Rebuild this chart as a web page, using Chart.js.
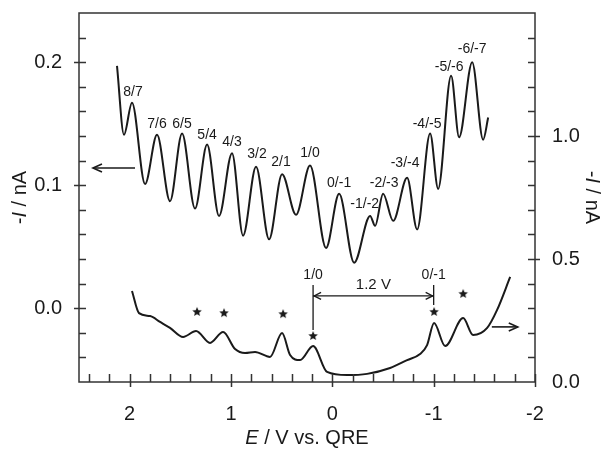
<!DOCTYPE html>
<html>
<head>
<meta charset="utf-8">
<script src="https://cdn.jsdelivr.net/npm/chart.js@4"></script>
<style>
  body { margin: 0; background: #fff; }
</style>
</head>
<body>
<canvas id="chart" width="604" height="451"></canvas>
<script>
// upper curve (left axis, -I / nA)
const upperE = [2.125, 2.056, 1.977, 1.848, 1.730, 1.602, 1.483, 1.355, 1.236, 1.118, 0.990, 0.881, 0.753, 0.624, 0.496, 0.358, 0.220, 0.062, -0.067, -0.215, -0.373, -0.422, -0.501, -0.600, -0.738, -0.837, -0.965, -1.044, -1.172, -1.251, -1.380, -1.488, -1.538];
const upperI = [0.197, 0.141, 0.167, 0.101, 0.141, 0.087, 0.142, 0.081, 0.133, 0.075, 0.126, 0.059, 0.115, 0.056, 0.109, 0.076, 0.116, 0.049, 0.093, 0.037, 0.075, 0.067, 0.093, 0.071, 0.106, 0.064, 0.142, 0.097, 0.189, 0.139, 0.200, 0.137, 0.155];

// lower curve (right axis, -I / nA)
const lowerE = [1.977, 1.908, 1.799, 1.700, 1.602, 1.473, 1.345, 1.207, 1.078, 0.960, 0.861, 0.763, 0.615, 0.496, 0.417, 0.318, 0.190, 0.052, -0.146, -0.343, -0.570, -0.738, -0.866, -0.935, -1.004, -1.113, -1.291, -1.389, -1.528, -1.626, -1.755];
const lowerI = [0.370, 0.280, 0.268, 0.244, 0.220, 0.183, 0.207, 0.159, 0.203, 0.134, 0.118, 0.122, 0.102, 0.199, 0.110, 0.089, 0.146, 0.041, 0.028, 0.033, 0.057, 0.089, 0.114, 0.150, 0.240, 0.146, 0.260, 0.191, 0.220, 0.293, 0.427];

// starred peaks on the lower curve
const starE = [1.335, 1.069, 0.486, 0.190, -1.004, -1.291];
const starI = [0.285, 0.280, 0.276, 0.187, 0.285, 0.358];

// charge-state labels on the upper curve
const peakLabels = ["8/7", "7/6", "6/5", "5/4", "4/3", "3/2", "2/1", "1/0", "0/-1", "-1/-2", "-2/-3", "-3/-4", "-4/-5", "-5/-6", "-6/-7"];
const peakLabelE = [1.967, 1.730, 1.483, 1.236, 0.990, 0.743, 0.506, 0.220, -0.067, -0.320, -0.511, -0.718, -0.935, -1.153, -1.380];
const peakLabelI = [0.176, 0.150, 0.150, 0.141, 0.135, 0.125, 0.119, 0.126, 0.102, 0.085, 0.102, 0.118, 0.150, 0.196, 0.211];

const xTicks = [2, 1, 0, -1, -2];
const yLeftTicks = [0.0, 0.1, 0.2];
const yRightTicks = [0.0, 0.5, 1.0];

const FONT = "'Liberation Sans', Arial, sans-serif";
const INK = "#1a1a1a";
const AXIS = "#333";

function starImage(r) {
  const c = document.createElement("canvas");
  c.width = c.height = 2 * r + 2;
  const g = c.getContext("2d");
  g.fillStyle = INK;
  g.beginPath();
  for (let i = 0; i < 10; i++) {
    const a = -Math.PI / 2 + (i * Math.PI) / 5;
    const rr = i % 2 ? r * 0.45 : r;
    g.lineTo(r + 1 + rr * Math.cos(a), r + 1 + rr * Math.sin(a));
  }
  g.closePath();
  g.fill();
  return c;
}

function head(ctx, x, y, dir, len, half) {
  ctx.beginPath();
  ctx.moveTo(x - dir * len, y - half);
  ctx.lineTo(x, y);
  ctx.lineTo(x - dir * len, y + half);
  ctx.stroke();
}

const extras = {
  id: "extras",
  afterDatasetsDraw(chart) {
    const { ctx, chartArea: a, scales } = chart;
    const sx = scales.x, yl = scales.y, yr = scales.y1;
    ctx.save();

    // frame
    ctx.strokeStyle = AXIS;
    ctx.lineWidth = 1.5;
    ctx.strokeRect(a.left, a.top, a.right - a.left, a.bottom - a.top);

    // tick marks (inward, majors also poke out)
    ctx.beginPath();
    for (let k = -10; k <= 12; k++) {
      const px = Math.round(sx.getPixelForValue(k * 0.2)) + 0.5;
      const major = k % 5 === 0;
      ctx.moveTo(px, a.bottom - 8);
      ctx.lineTo(px, a.bottom + (major ? 5 : 0));
    }
    for (let k = -2; k <= 11; k++) {
      const py = Math.round(yl.getPixelForValue(k * 0.02)) + 0.5;
      const major = k % 5 === 0;
      ctx.moveTo(a.left - (major ? 5 : 0), py);
      ctx.lineTo(a.left + 7, py);
    }
    for (let k = 1; k <= 14; k++) {
      const py = Math.round(yr.getPixelForValue(k * 0.1)) + 0.5;
      const major = k % 5 === 0;
      ctx.moveTo(a.right - 7, py);
      ctx.lineTo(a.right + (major ? 5 : 0), py);
    }
    ctx.stroke();

    // peak labels
    ctx.fillStyle = INK;
    ctx.font = "14px " + FONT;
    ctx.textAlign = "center";
    ctx.textBaseline = "middle";
    peakLabels.forEach((t, i) => {
      ctx.fillText(t, sx.getPixelForValue(peakLabelE[i]), yl.getPixelForValue(peakLabelI[i]));
    });

    // axis arrows
    ctx.strokeStyle = INK;
    ctx.lineWidth = 1.6;
    const ay = yl.getPixelForValue(0.114);
    const ax0 = sx.getPixelForValue(1.947), ax1 = sx.getPixelForValue(2.362);
    ctx.beginPath(); ctx.moveTo(ax0, ay); ctx.lineTo(ax1, ay); ctx.stroke();
    head(ctx, ax1, ay, -1, 9, 4);
    const by = yr.getPixelForValue(0.224);
    const bx0 = sx.getPixelForValue(-1.574), bx1 = sx.getPixelForValue(-1.83);
    ctx.beginPath(); ctx.moveTo(bx0, by); ctx.lineTo(bx1, by); ctx.stroke();
    head(ctx, bx1, by, 1, 9, 4);

    // 1.2 V bracket
    ctx.lineWidth = 1.3;
    const p1 = sx.getPixelForValue(0.19), p2 = sx.getPixelForValue(-1.0);
    const hy = yr.getPixelForValue(0.35);
    ctx.beginPath();
    ctx.moveTo(p1, yr.getPixelForValue(0.394)); ctx.lineTo(p1, yr.getPixelForValue(0.211));
    ctx.moveTo(p2, yr.getPixelForValue(0.394)); ctx.lineTo(p2, yr.getPixelForValue(0.313));
    ctx.moveTo(p1, hy); ctx.lineTo(p2, hy);
    ctx.stroke();
    head(ctx, p1 + 1, hy, -1, 7, 3.5);
    head(ctx, p2 - 1, hy, 1, 7, 3.5);
    ctx.font = "15px " + FONT;
    ctx.fillText("1.2 V", sx.getPixelForValue(-0.405), yr.getPixelForValue(0.394));
    ctx.font = "14px " + FONT;
    ctx.fillText("1/0", p1, yr.getPixelForValue(0.435));
    ctx.fillText("0/-1", p2, yr.getPixelForValue(0.435));

    // axis titles
    const reg = "20px " + FONT;
    const ital = "italic 20px " + FONT;
    function rich(pieces, cx, cy, rot) {
      ctx.save();
      ctx.translate(cx, cy);
      ctx.rotate(rot);
      let w = 0;
      pieces.forEach(([t, f]) => { ctx.font = f; w += ctx.measureText(t).width; });
      let x = -w / 2;
      ctx.textAlign = "left";
      pieces.forEach(([t, f]) => { ctx.font = f; ctx.fillText(t, x, 0); x += ctx.measureText(t).width; });
      ctx.restore();
    }
    const yTitle = [["-", reg], ["I", ital], [" / nA", reg]];
    rich(yTitle, 20, (a.top + a.bottom) / 2, -Math.PI / 2);
    rich(yTitle, 592, (a.top + a.bottom) / 2, Math.PI / 2);
    rich([["E", ital], [" / V vs. QRE", reg]], (a.left + a.right) / 2, 438, 0);

    ctx.restore();
  },
};

// keep the plot box where the reference has it
function noPad(s) {
  s.paddingTop = 0;
  s.paddingBottom = 0;
  s.paddingLeft = 0;
  s.paddingRight = 0;
}

const ctx = document.getElementById("chart");

new Chart(ctx, {
  type: "line",
  data: {
    datasets: [
      {
        label: "upper",
        data: upperE.map((e, i) => ({ x: e, y: upperI[i] })),
        yAxisID: "y",
        borderColor: INK,
        borderWidth: 2,
        pointRadius: 0,
        cubicInterpolationMode: "monotone",
      },
      {
        label: "lower",
        data: lowerE.map((e, i) => ({ x: e, y: lowerI[i] })),
        yAxisID: "y1",
        borderColor: INK,
        borderWidth: 2,
        pointRadius: 0,
        cubicInterpolationMode: "monotone",
      },
      {
        label: "stars",
        data: starE.map((e, i) => ({ x: e, y: starI[i] })),
        yAxisID: "y1",
        showLine: false,
        pointStyle: starImage(5),
        pointRadius: 5,
      },
    ],
  },
  options: {
    responsive: false,
    animation: false,
    layout: { padding: { top: 13, left: 0, right: 0, bottom: 0 } },
    plugins: { legend: { display: false }, tooltip: { enabled: false } },
    scales: {
      x: {
        type: "linear",
        reverse: true,
        min: -2,
        max: 2.5,
        grid: { display: false },
        border: { display: false },
        ticks: { color: INK, font: { family: FONT, size: 20 }, padding: 12, maxRotation: 0, autoSkip: false, callback: (v) => String(v) },
        afterBuildTicks: (s) => { s.ticks = xTicks.map((v) => ({ value: v })); },
        afterFit: (s) => { s.height = 69; noPad(s); },
      },
      y: {
        position: "left",
        min: -0.06,
        max: 0.24,
        grid: { display: false },
        border: { display: false },
        ticks: { color: INK, font: { family: FONT, size: 20 }, padding: 9, callback: (v) => v.toFixed(1) },
        afterBuildTicks: (s) => { s.ticks = yLeftTicks.map((v) => ({ value: v })); },
        afterFit: (s) => { s.width = 79; noPad(s); },
      },
      y1: {
        position: "right",
        min: 0,
        max: 1.5,
        grid: { display: false },
        border: { display: false },
        ticks: { color: INK, font: { family: FONT, size: 20 }, padding: 9, callback: (v) => v.toFixed(1) },
        afterBuildTicks: (s) => { s.ticks = yRightTicks.map((v) => ({ value: v })); },
        afterFit: (s) => { s.width = 69; noPad(s); },
      },
    },
  },
  plugins: [extras],
});
</script>
</body>
</html>
